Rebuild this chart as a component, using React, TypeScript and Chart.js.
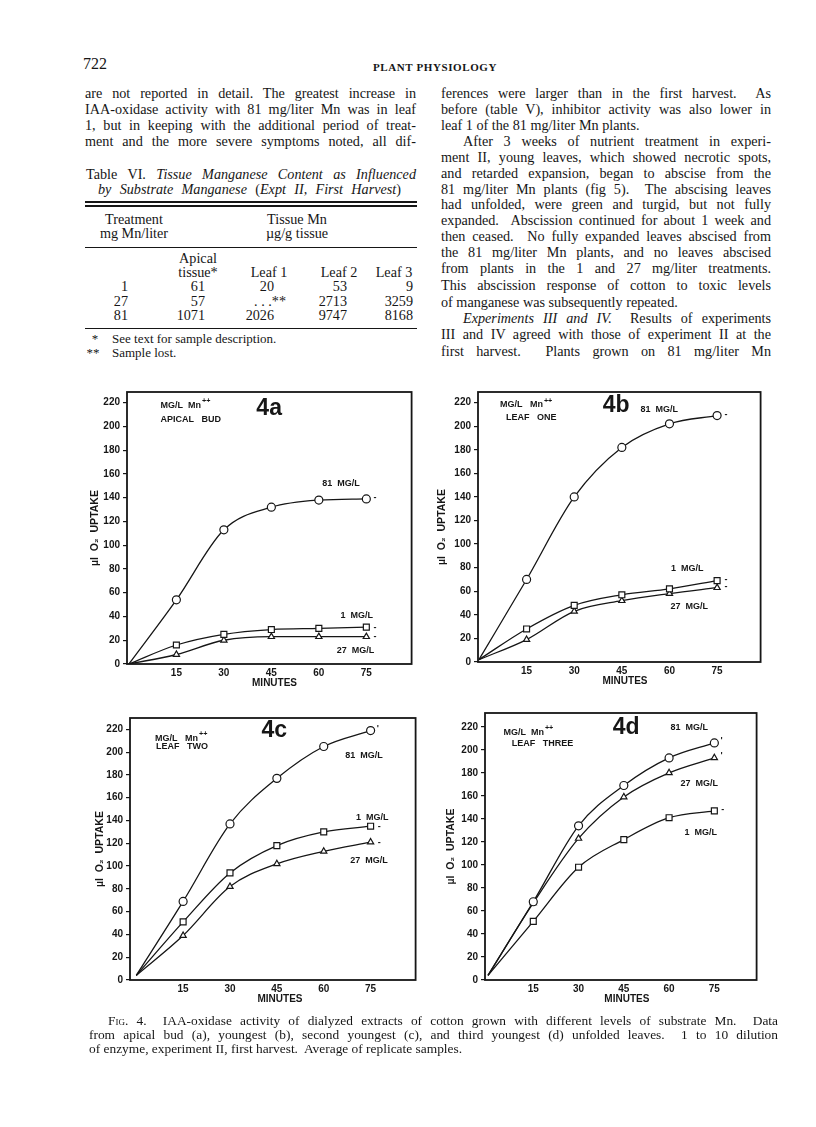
import React, { useEffect, useRef } from 'react';
import { Chart, registerables } from 'chart.js';

Chart.register(...registerables);

// ---------- data ----------
const minutes = [0, 15, 30, 45, 60, 75];
const xTickValues = [15, 30, 45, 60, 75];

const apicalBud81 = [0, 54, 113, 132, 138, 139];
const apicalBud1 = [0, 16, 25, 29, 30, 31];
const apicalBud27 = [0, 8, 20, 23, 23, 23];

const leafOne81 = [2, 70, 140, 182, 202, 209];
const leafOne1 = [2, 28, 48, 57, 62, 69];
const leafOne27 = [2, 19, 43, 52, 58, 63];

const leafTwo81 = [4, 69, 137, 177, 205, 219];
const leafTwo1 = [4, 51, 94, 118, 130, 135];
const leafTwo27 = [4, 39, 82, 102, 113, 121];

const leafThree81 = [4, 68, 134, 169, 193, 206];
const leafThree27 = [4, 67, 123, 159, 180, 193];
const leafThree1 = [4, 51, 98, 122, 141, 147];

const tableTreatments = ['1', '27', '81'];
const tableApical = ['61', '57', '1071'];
const tableLeaf1 = ['20', '. . .**', '2026'];
const tableLeaf2 = ['53', '2713', '9747'];
const tableLeaf3 = ['9', '3259', '8168'];

const SANS = "'Liberation Sans', Arial, sans-serif";
const SERIF = "'Liberation Serif', 'Times New Roman', serif";
const INK = '#161616';
const BODY = 14.2;

type Note = { text: string; x: number; y: number; size: number; align?: CanvasTextAlign; sup?: string };
type Series = { values: number[]; style: string; radius: number };
type Panel = {
  box: { left: number; top: number; right: number; bottom: number };
  xMin: number; xMax: number; yMax: number; titleOffset: number;
  series: Series[]; notes: Note[];
};

const panels: Panel[] = [
  {
    box: { left: 127, top: 387, right: 413, bottom: 664 }, xMin: -0.6, xMax: 89.3, yMax: 229, titleOffset: 32,
    series: [
      { values: apicalBud81, style: 'circle', radius: 4 },
      { values: apicalBud1, style: 'rect', radius: 4.2 },
      { values: apicalBud27, style: 'triangle', radius: 3.6 },
    ],
    notes: [
      { text: 'MG/L  Mn', sup: '++', x: 10, y: 218, size: 9 },
      { text: 'APICAL   BUD', x: 10, y: 206, size: 9 },
      { text: '4a', x: 44.3, y: 215, size: 23, align: 'center' },
      { text: '81  MG/L', x: 67, y: 152, size: 9, align: 'center' },
      { text: '1  MG/L', x: 72, y: 40.5, size: 9, align: 'center' },
      { text: '27  MG/L', x: 71.6, y: 11, size: 9, align: 'center' },
      { text: '-', x: 77.3, y: 140, size: 9 },
      { text: '-', x: 77.3, y: 31, size: 9 },
      { text: '-', x: 77.3, y: 23, size: 9 },
    ],
  },
  {
    box: { left: 478, top: 387, right: 762, bottom: 662 }, xMin: -0.3, xMax: 88.7, yMax: 229, titleOffset: 36,
    series: [
      { values: leafOne81, style: 'circle', radius: 4 },
      { values: leafOne1, style: 'rect', radius: 4.2 },
      { values: leafOne27, style: 'triangle', radius: 3.6 },
    ],
    notes: [
      { text: 'MG/L   Mn', sup: '++', x: 6.6, y: 218, size: 9 },
      { text: 'LEAF   ONE', x: 8.5, y: 207, size: 9 },
      { text: '4b', x: 43.2, y: 217, size: 23, align: 'center' },
      { text: '81  MG/L', x: 56.8, y: 214, size: 9, align: 'center' },
      { text: '1  MG/L', x: 65.6, y: 79.6, size: 9, align: 'center' },
      { text: '27  MG/L', x: 66.2, y: 47.4, size: 9, align: 'center' },
      { text: '-', x: 77.3, y: 210, size: 9 },
      { text: '-', x: 77.3, y: 70, size: 9 },
      { text: '-', x: 77.3, y: 64, size: 9 },
    ],
  },
  {
    box: { left: 130, top: 713, right: 417, bottom: 980 }, xMin: -2, xMax: 89.4, yMax: 230, titleOffset: 30,
    series: [
      { values: leafTwo81, style: 'circle', radius: 4 },
      { values: leafTwo1, style: 'rect', radius: 4.2 },
      { values: leafTwo27, style: 'triangle', radius: 3.6 },
    ],
    notes: [
      { text: 'MG/L   Mn', sup: '++', x: 6, y: 212, size: 9 },
      { text: 'LEAF   TWO', x: 6.3, y: 204.8, size: 9 },
      { text: '4c', x: 44.2, y: 218.7, size: 23, align: 'center' },
      { text: '81  MG/L', x: 72.9, y: 197, size: 9, align: 'center' },
      { text: '1  MG/L', x: 75.5, y: 143, size: 9, align: 'center' },
      { text: '27  MG/L', x: 74.5, y: 104.8, size: 9, align: 'center' },
      { text: "'", x: 77.0, y: 221, size: 9 },
      { text: '-', x: 77.3, y: 135, size: 9 },
      { text: '-', x: 77.3, y: 121, size: 9 },
    ],
  },
  {
    box: { left: 485, top: 708, right: 758, bottom: 980 }, xMin: -1, xMax: 89, yMax: 232, titleOffset: 34,
    series: [
      { values: leafThree81, style: 'circle', radius: 4 },
      { values: leafThree27, style: 'triangle', radius: 3.6 },
      { values: leafThree1, style: 'rect', radius: 4.2 },
    ],
    notes: [
      { text: 'MG/L  Mn', sup: '++', x: 5.1, y: 215, size: 9 },
      { text: 'LEAF   THREE', x: 7.9, y: 205.8, size: 9 },
      { text: '4d', x: 45.8, y: 219.5, size: 23, align: 'center' },
      { text: '81  MG/L', x: 66.7, y: 219.5, size: 9, align: 'center' },
      { text: '27  MG/L', x: 70, y: 171, size: 9, align: 'center' },
      { text: '1  MG/L', x: 70.5, y: 128, size: 9, align: 'center' },
      { text: "'", x: 77.0, y: 208, size: 9 },
      { text: "'", x: 77.0, y: 195, size: 9 },
      { text: '-', x: 77.3, y: 148, size: 9 },
    ],
  },
];

// ---------- chart panel ----------
const PAD_L = 10, PAD_T = 4, PAD_R = 4, PAD_B = 4, Y_W = 40, X_H = 30;

function ChartPanel({ panel }: { panel: Panel }) {
  const ref = useRef<HTMLCanvasElement | null>(null);
  const { box } = panel;
  const width = box.right - box.left + PAD_L + Y_W + PAD_R;
  const height = box.bottom - box.top + PAD_T + X_H + PAD_B;

  useEffect(() => {
    if (!ref.current) return;
    const deco = {
      id: 'deco',
      afterDraw(chart: any) {
        const { ctx, chartArea: a, scales } = chart;
        const xs = scales.x, ys = scales.y;
        ctx.save();
        ctx.strokeStyle = INK;
        ctx.lineWidth = 1.8;
        ctx.strokeRect(a.left, a.top, a.right - a.left, a.bottom - a.top);
        ctx.fillStyle = INK;
        ctx.textBaseline = 'middle';
        for (const n of panel.notes) {
          ctx.font = `bold ${n.size}px ${SANS}`;
          ctx.textAlign = n.align ?? 'left';
          const px = xs.getPixelForValue(n.x);
          const py = ys.getPixelForValue(n.y);
          ctx.fillText(n.text, px, py);
          if (n.sup) {
            const w = ctx.measureText(n.text).width;
            ctx.font = `bold ${n.size * 0.8}px ${SANS}`;
            ctx.textAlign = 'left';
            ctx.fillText(n.sup, px + w + 1, py - n.size * 0.45);
          }
        }
        ctx.font = `bold 10px ${SANS}`;
        ctx.textAlign = 'center';
        ctx.fillText('MINUTES', xs.getPixelForValue(46), a.bottom + 19);
        ctx.translate(a.left - panel.titleOffset, (a.top + a.bottom) / 2);
        ctx.rotate(-Math.PI / 2);
        ctx.font = `bold 10.5px ${SANS}`;
        ctx.fillText('µl  O₂  UPTAKE', 0, 0);
        ctx.restore();
      },
    };
    const chart = new Chart(ref.current, {
      type: 'line',
      data: {
        datasets: panel.series.map((s) => ({
          data: minutes.map((m, i) => ({ x: m, y: s.values[i] })),
          borderColor: INK,
          borderWidth: 1.3,
          pointStyle: s.style as any,
          pointRadius: minutes.map((_, i) => (i === 0 ? 0 : s.radius)),
          pointBorderColor: INK,
          pointBackgroundColor: '#ffffff',
          pointBorderWidth: 1.2,
          tension: 0.4,
          cubicInterpolationMode: 'monotone' as const,
          fill: false,
        })),
      },
      options: {
        animation: false,
        responsive: false,
        maintainAspectRatio: false,
        layout: { padding: { left: PAD_L, top: PAD_T, right: PAD_R, bottom: PAD_B } },
        plugins: { legend: { display: false }, tooltip: { enabled: false } },
        scales: {
          x: {
            type: 'linear',
            min: panel.xMin,
            max: panel.xMax,
            afterBuildTicks: (s: any) => { s.ticks = xTickValues.map((v) => ({ value: v })); },
            afterFit: (s: any) => { s.height = X_H; },
            grid: { display: false, drawTicks: false, tickLength: 0 },
            border: { display: false },
            ticks: { color: INK, font: { family: SANS, size: 10, weight: 'bold' }, padding: 3, autoSkip: false, maxRotation: 0 },
          },
          y: {
            type: 'linear',
            min: 0,
            max: panel.yMax,
            afterFit: (s: any) => { s.width = Y_W; },
            grid: { drawOnChartArea: false, drawTicks: true, tickLength: 4, color: INK, lineWidth: 1.2 },
            border: { display: false },
            ticks: {
              stepSize: 10,
              includeBounds: false,
              color: INK,
              padding: 3,
              font: { family: SANS, size: 10, weight: 'bold' },
              callback: (v: any) => (Number(v) % 20 === 0 ? String(v) : ''),
            },
          },
        },
      },
      plugins: [deco],
    } as any);
    return () => chart.destroy();
  }, [panel]);

  return (
    <canvas
      ref={ref}
      width={width}
      height={height}
      style={{ position: 'absolute', left: box.left - PAD_L - Y_W, top: box.top - PAD_T, width, height }}
    />
  );
}

// ---------- text helpers ----------
function Line({ x, y, w, children, last, size = BODY }: { x: number; y: number; w: number; children: any; last?: boolean; size?: number }) {
  return (
    <div
      style={{
        position: 'absolute', left: x, top: y - 8, width: w, height: 16, lineHeight: '16px',
        fontSize: size, fontFamily: SERIF, color: INK,
        textAlign: last ? 'left' : 'justify', textAlignLast: last ? 'left' : 'justify',
      } as any}
    >
      {children}
    </div>
  );
}

function Txt({ x, y, children, align = 'left', size = BODY, style }: { x: number; y: number; children: any; align?: 'left' | 'center' | 'right'; size?: number; style?: any }) {
  const tx = align === 'center' ? '-50%' : align === 'right' ? '-100%' : '0';
  return (
    <div style={{ position: 'absolute', left: x, top: y - 8, lineHeight: '16px', fontSize: size, fontFamily: SERIF, color: INK, whiteSpace: 'nowrap', transform: `translateX(${tx})`, ...style }}>
      {children}
    </div>
  );
}

function Rule({ y, x1, x2, h = 1 }: { y: number; x1: number; x2: number; h?: number }) {
  return <div style={{ position: 'absolute', left: x1, top: y - h / 2, width: x2 - x1, height: h, background: INK }} />;
}

const leftLines = [
  'are not reported in detail. The greatest increase in',
  'IAA-oxidase activity with 81 mg/liter Mn was in leaf',
  '1, but in keeping with the additional period of treat-',
  'ment and the more severe symptoms noted, all dif-',
];
const leftY = [93, 109, 125, 141];

const rightY = [93, 109, 125, 141, 156.5, 172.5, 188.5, 204, 220, 236, 252.3, 268.3, 285, 301.5, 317.5, 334, 350.5];

export default function App() {
  const rx = 441, rw = 330, ind = 463;
  const rows = tableTreatments.map((t, i) => ({ t, a: tableApical[i], l1: tableLeaf1[i], l2: tableLeaf2[i], l3: tableLeaf3[i] }));
  const rowY = [286, 301, 315];
  return (
    <div style={{ position: 'absolute', left: 0, top: 0, width: 816, height: 1127, background: '#fff', overflow: 'hidden' }}>
      <Txt x={83} y={64} size={16}>722</Txt>
      <Txt x={373} y={67} size={11} style={{ fontWeight: 'bold', letterSpacing: 0.6 }}>PLANT PHYSIOLOGY</Txt>

      {leftLines.map((t, i) => (
        <Line key={i} x={85} y={leftY[i]} w={331}>{t}</Line>
      ))}

      <Line x={86} y={174} w={330}>Table VI. <i>Tissue Manganese Content as Influenced</i></Line>
      <Line x={98} y={189} w={303}><i>by Substrate Manganese</i> (<i>Expt II, First Harvest</i>)</Line>
      <Rule y={202} x1={85} x2={417} h={2} />
      <Rule y={206} x1={85} x2={417} h={1.5} />
      <Txt x={134} y={219} align="center">Treatment</Txt>
      <Txt x={134} y={233} align="center">mg Mn/liter</Txt>
      <Txt x={297} y={219} align="center">Tissue Mn</Txt>
      <Txt x={297} y={233} align="center">µg/g tissue</Txt>
      <Rule y={247} x1={85} x2={417} h={1} />
      <Txt x={198} y={258} align="center">Apical</Txt>
      <Txt x={198} y={272} align="center">tissue*</Txt>
      <Txt x={269} y={272} align="center">Leaf 1</Txt>
      <Txt x={339} y={272} align="center">Leaf 2</Txt>
      <Txt x={394} y={272} align="center">Leaf 3</Txt>
      {rows.map((r, i) => (
        <React.Fragment key={i}>
          <Txt x={128} y={rowY[i]} align="right">{r.t}</Txt>
          <Txt x={205} y={rowY[i]} align="right">{r.a}</Txt>
          <Txt x={r.l1.includes('*') ? 286 : 274} y={rowY[i]} align="right">{r.l1}</Txt>
          <Txt x={347} y={rowY[i]} align="right">{r.l2}</Txt>
          <Txt x={413} y={rowY[i]} align="right">{r.l3}</Txt>
        </React.Fragment>
      ))}
      <Rule y={328} x1={85} x2={417} h={1} />
      <Txt x={95} y={339} align="center" size={13}>*</Txt>
      <Txt x={112} y={339} size={13}>See text for sample description.</Txt>
      <Txt x={93} y={353} align="center" size={13}>**</Txt>
      <Txt x={112} y={353} size={13}>Sample lost.</Txt>

      <Line x={rx} y={rightY[0]} w={rw}>ferences were larger than in the first harvest.&nbsp; As</Line>
      <Line x={rx} y={rightY[1]} w={rw}>before (table V), inhibitor activity was also lower in</Line>
      <Line x={rx} y={rightY[2]} w={rw} last>leaf 1 of the 81 mg/liter Mn plants.</Line>
      <Line x={ind} y={rightY[3]} w={771 - ind}>After 3 weeks of nutrient treatment in experi-</Line>
      <Line x={rx} y={rightY[4]} w={rw}>ment II, young leaves, which showed necrotic spots,</Line>
      <Line x={rx} y={rightY[5]} w={rw}>and retarded expansion, began to abscise from the</Line>
      <Line x={rx} y={rightY[6]} w={rw}>81 mg/liter Mn plants (fig 5).&nbsp; The abscising leaves</Line>
      <Line x={rx} y={rightY[7]} w={rw}>had unfolded, were green and turgid, but not fully</Line>
      <Line x={rx} y={rightY[8]} w={rw}>expanded.&nbsp; Abscission continued for about 1 week and</Line>
      <Line x={rx} y={rightY[9]} w={rw}>then ceased.&nbsp; No fully expanded leaves abscised from</Line>
      <Line x={rx} y={rightY[10]} w={rw}>the 81 mg/liter Mn plants, and no leaves abscised</Line>
      <Line x={rx} y={rightY[11]} w={rw}>from plants in the 1 and 27 mg/liter treatments.</Line>
      <Line x={rx} y={rightY[12]} w={rw}>This abscission response of cotton to toxic levels</Line>
      <Line x={rx} y={rightY[13]} w={rw} last>of manganese was subsequently repeated.</Line>
      <Line x={ind} y={rightY[14]} w={771 - ind}><i>Experiments III and IV.</i>&nbsp; Results of experiments</Line>
      <Line x={rx} y={rightY[15]} w={rw}>III and IV agreed with those of experiment II at the</Line>
      <Line x={rx} y={rightY[16]} w={rw}>first harvest.&nbsp; Plants grown on 81 mg/liter Mn</Line>

      {panels.map((p, i) => (
        <ChartPanel key={i} panel={p} />
      ))}

      <Line x={108} y={1021} w={670} size={13.4}><span style={{ fontVariant: 'small-caps' }}>Fig.</span> 4.&nbsp; IAA-oxidase activity of dialyzed extracts of cotton grown with different levels of substrate Mn.&nbsp; Data</Line>
      <Line x={89} y={1035} w={689} size={13.4}>from apical bud (a), youngest (b), second youngest (c), and third youngest (d) unfolded leaves.&nbsp; 1 to 10 dilution</Line>
      <Line x={89} y={1049} w={689} size={13.4} last>of enzyme, experiment II, first harvest.&nbsp; Average of replicate samples.</Line>
    </div>
  );
}
